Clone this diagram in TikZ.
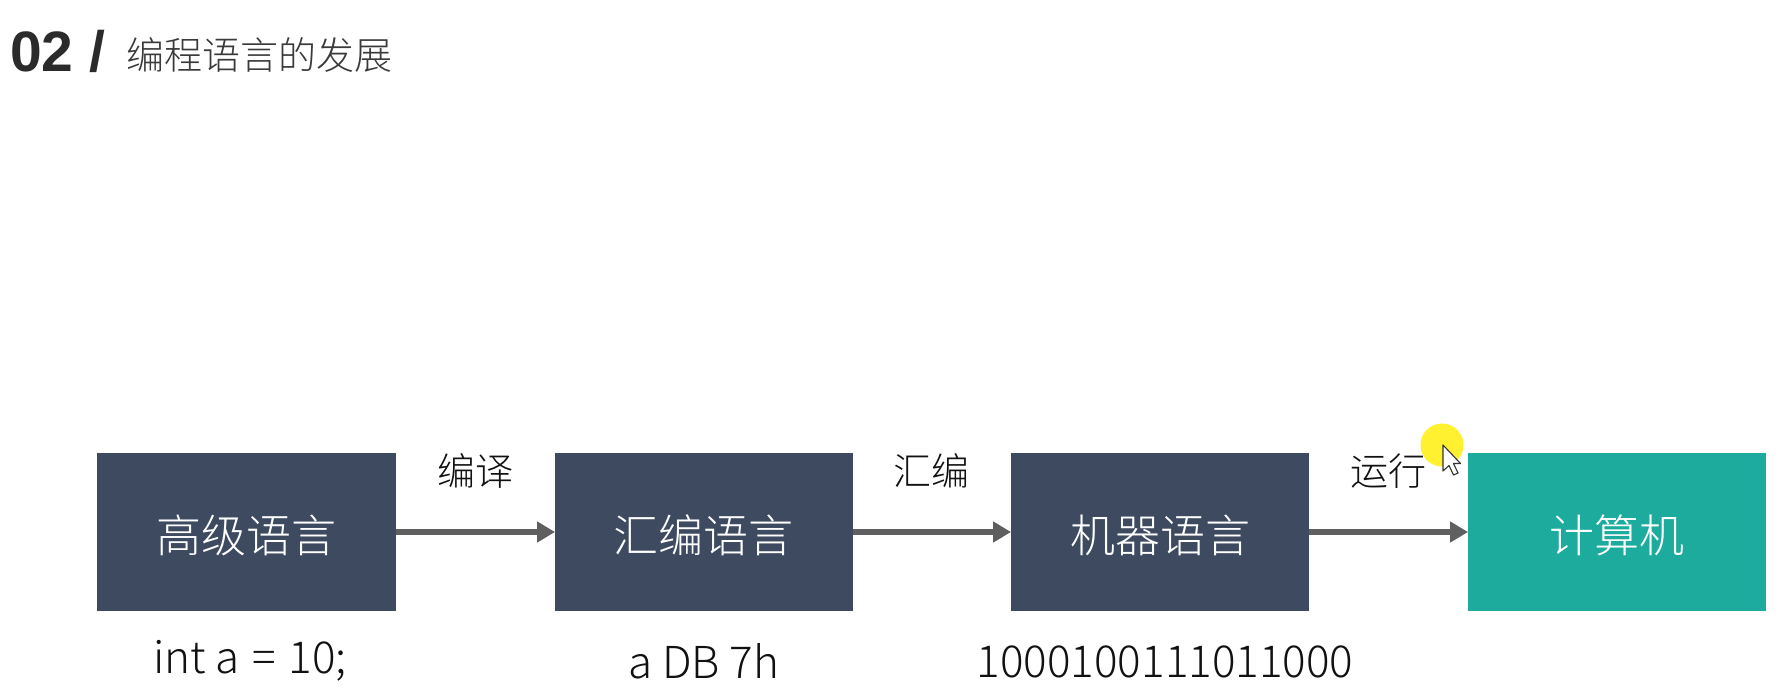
\documentclass[tikz,border=0pt]{standalone}
\usepackage{fontspec}
\setmainfont{Noto Sans CJK SC Light}
\newfontfamily\titlefont{Liberation Sans}[BoldFont={Liberation Sans Bold}]
\definecolor{boxdark}{HTML}{3D4A60}
\definecolor{boxteal}{HTML}{1CAB9C}
\definecolor{arrowgray}{HTML}{5F5F5F}
\definecolor{textdark}{HTML}{111111}
\definecolor{titlegray}{HTML}{2B2B2B}
\definecolor{subgray}{HTML}{3A3A3A}
\definecolor{cursoryellow}{HTML}{FFF030}
\newcommand{\fs}[1]{\fontsize{#1pt}{#1pt}\selectfont}
\tikzset{
  x=1pt,y=-1pt,
  box/.style={rectangle,draw=none,inner sep=0pt,minimum height=158pt,text=white},
  boxtext/.style={inner sep=0pt,text=white,font=\fs{45}},
  flow/.style={draw=arrowgray,line width=6.5pt,-{Triangle[length=18pt,width=20pt]}},
  steplabel/.style={inner sep=0pt,text=textdark,font=\fs{38}},
  codelabel/.style={inner sep=0pt,text=textdark,font=\fs{44}},
}
\usetikzlibrary{arrows.meta}
\begin{document}
\begin{tikzpicture}
\useasboundingbox (0,0) rectangle (1778,698);
\fill[white] (0,0) rectangle (1778,698);
\node[anchor=base west,inner sep=0pt,text=titlegray,font=\titlefont\bfseries\fs{57}] (num) at (10,72) {02 /};
\node[anchor=base west,inner sep=0pt,text=subgray,font=\fs{38}] (title) at (126,70) {编程语言的发展};
\node[box,fill=boxdark,minimum width=299pt] (a) at (246.5,532) {};
\node[box,fill=boxdark,minimum width=297.5pt] (b) at (704,532) {};
\node[box,fill=boxdark,minimum width=297.5pt] (c) at (1160,532) {};
\node[box,fill=boxteal,minimum width=297.5pt] (d) at (1617,532) {};
\node[boxtext] (at) at (246,535) {高级语言};
\node[boxtext] (bt) at (703,535) {汇编语言};
\node[boxtext] (ct) at (1160,535) {机器语言};
\node[boxtext] (dt) at (1617,535) {计算机};
\draw[flow] (a.east) -- (b.west);
\draw[flow] (b.east) -- (c.west);
\draw[flow] (c.east) -- (d.west);
\node[steplabel] (l1) at (475,471) {编译};
\node[steplabel] (l2) at (931,471) {汇编};
\node[steplabel] (l3) at (1388,471) {运行};
\node[codelabel] (t1) at (250,661) {int a\hspace{3pt} = \hspace{3pt}10;};
\node[codelabel] (t2) at (704,661) {a DB 7h};
\node[codelabel] (t3) at (1165,662) {1000100111011000};
\fill[cursoryellow] (1442,445) circle (21.5);
\draw[black!80,fill=white,line width=1.1pt,line join=round]
  (1443,445) -- (1443,471) -- (1449,465.5) -- (1453.5,475) -- (1458,473) -- (1453.5,463.5) -- (1460.5,463.5) -- cycle;
\end{tikzpicture}
\end{document}
